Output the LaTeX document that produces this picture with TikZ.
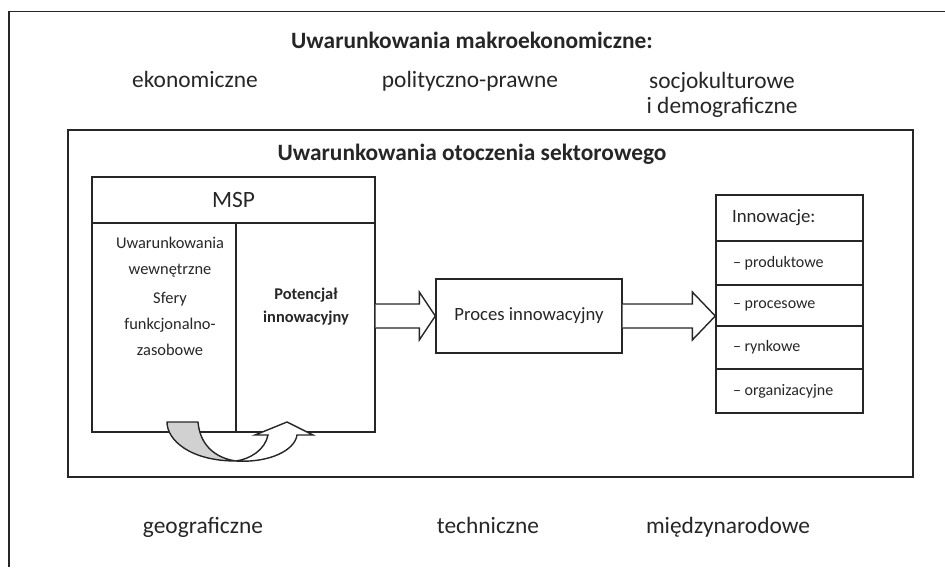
\documentclass[tikz,border=0pt]{standalone}
\usepackage{fontspec}
\setmainfont{Carlito}
\usepackage{tikz}
\usetikzlibrary{calc,positioning}

\begin{document}
\begin{tikzpicture}[x=0.5pt,y=-0.5pt,line width=0.7pt,color=black!85,
  box/.style={draw,inner sep=0pt},
  big/.style={font=\fontsize{11.7}{12.6}\selectfont,inner sep=0pt},
  bigb/.style={font=\fontsize{11.7}{14}\selectfont\bfseries,inner sep=0pt},
  small/.style={font=\fontsize{8.2}{12.8}\selectfont,align=center,inner sep=0pt},
  item/.style={font=\fontsize{8}{10}\selectfont,anchor=west,inner sep=0pt},
  blockarr/.style={draw,fill=white,line join=miter}]
  \useasboundingbox (0,0) rectangle (945,567);
  % outer frame, runs off the page to the right and below
  \draw (9,567) -- (9,11.7) -- (945,11.7);
  \node[bigb] (makro) at (472,40) {Uwarunkowania makroekonomiczne:};
  \node[big,anchor=base] (ekon) at (195,88) {ekonomiczne};
  \node[big,anchor=base] (polit) at (470,88) {polityczno-prawne};
  \node[big,align=center] (socjo) at (722,95) {socjokulturowe\\i demograficzne};
  \node[big,anchor=base] (geo) at (203,533) {geograficzne};
  \node[big,anchor=base] (tech) at (488,533) {techniczne};
  \node[big,anchor=base] (miedzy) at (728,533) {międzynarodowe};
  % sector frame
  \node[box,minimum width=422.5pt,minimum height=173.5pt] (sektor) at (490.5,303.5) {};
  \node[bigb] (sektorT) at (472,154) {Uwarunkowania otoczenia sektorowego};
  % MSP block
  \node[box,big,minimum width=141.5pt,minimum height=23pt] (msp) at (233.5,200) {MSP};
  \node[box,minimum width=72pt,minimum height=104.5pt] (wewn) at (164,327.5) {};
  \node[box,minimum width=69.5pt,minimum height=104.5pt] (potencjal) at (305.5,327.5) {};
  \node[small] (wewnT) at (170,257) {Uwarunkowania\\wewnętrzne};
  \node[small] (sferyT) at (170,324) {Sfery\\funkcjonalno-\\zasobowe};
  \node[small,font=\fontsize{8.2}{11.5}\selectfont\bfseries] (potT) at (306,307) {Potencjał\\innowacyjny};
  % process and results
  \node[box,font=\fontsize{9.35}{11}\selectfont,minimum width=93pt,minimum height=37pt] (proc) at (529,316) {Proces innowacyjny};
  \node[box,minimum width=73.5pt,minimum height=23pt] (inn0) at (789.5,218) {};
  \node[font=\fontsize{9.4}{11}\selectfont,anchor=west,inner sep=0pt] (innT) at ($(inn0.west)+(16,0)$) {Innowacje:};
  \foreach \t/\b/\txt [count=\i] in {241/285/produktowe,285/326/procesowe,326/369/rynkowe,369/413/organizacyjne}{
    \node[box,minimum width=73.5pt,minimum height={(\b-\t)*0.5pt}] (inn\i) at (789.5,{(\t+\b)/2}) {};
    \node[item] (inn\i T) at ($(inn\i.west)+(17,0)$) {– \txt};
  }
  % fat arrows: start, tip, head length
  \def\fatarrow#1#2#3{
    \draw[blockarr] ($(#1)+(0,-12)$) -- ($(#2)+(-#3,-12)$) -- ($(#2)+(-#3,-24)$) -- (#2)
      -- ($(#2)+(-#3,24)$) -- ($(#2)+(-#3,12)$) -- ($(#1)+(0,12)$);
  }
  \coordinate (a1) at (potencjal.east |- proc.west);
  \coordinate (a2) at (inn0.west |- proc.east);
  \fatarrow{a1}{proc.west}{16}
  \fatarrow{proc.east}{a2}{23}
  % turning arrow under the MSP block
  \coordinate (turn) at (236,461);
  \draw[fill=black!18,line join=round] (167,422) -- (198,422) .. controls (200,445) and (215,458) .. (turn)
    .. controls (190,461) and (167,440) .. cycle;
  \draw[fill=white,line join=miter] (turn) .. controls (270,463) and (295,450) .. (297,435)
    -- (313,435) -- (287,422) -- (255,435) -- (268,435) .. controls (265,450) and (250,459) .. (turn);
\end{tikzpicture}
\end{document}
